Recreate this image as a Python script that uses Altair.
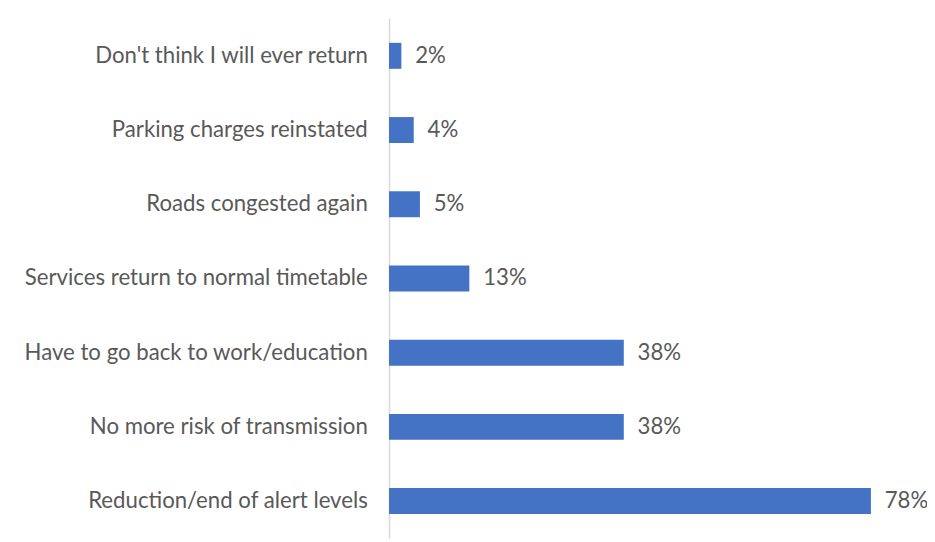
import altair as alt
import pandas as pd

categories = [
    "Don't think I will ever return",
    "Parking charges reinstated",
    "Roads congested again",
    "Services return to normal timetable",
    "Have to go back to work/education",
    "No more risk of transmission ",
    "Reduction/end of alert levels",
]
values = [2, 4, 5, 13, 38, 38, 78]
labels = ["2%", "4%", "5%", "13%", "38%", "38%", "78%"]

df = pd.DataFrame({"cat": categories, "val": values, "lab": labels})

FONT = "Lato"
FS = 22.5
TXT = "#595959"

y = alt.Y("cat:N", sort=categories, title=None,
          scale=alt.Scale(paddingInner=0.65, paddingOuter=0.33),
          axis=alt.Axis(ticks=False, domainColor="#D9D9D9", domainWidth=1.5,
                        labelPadding=22, labelFontSize=FS, labelFont=FONT,
                        labelColor=TXT, labelLimit=400))
x = alt.X("val:Q", title=None, scale=alt.Scale(domain=[0, 85]), axis=None)

bars = alt.Chart(df).mark_bar(color="#4472C4").encode(x=x, y=y)
text = alt.Chart(df).mark_text(align="left", dx=14, font=FONT, fontSize=FS,
                               color=TXT).encode(x=x, y=alt.Y("cat:N", sort=categories), text="lab:N")

chart = (bars + text).properties(
    width=532, height=527,
    background="white",
    autosize=alt.AutoSizeParams(type="none"),
    padding={"left": 386, "top": 7, "right": 13, "bottom": 0},
).configure_view(stroke=None)

chart.save("out.html", embed_options={"renderer": "svg", "actions": False})
